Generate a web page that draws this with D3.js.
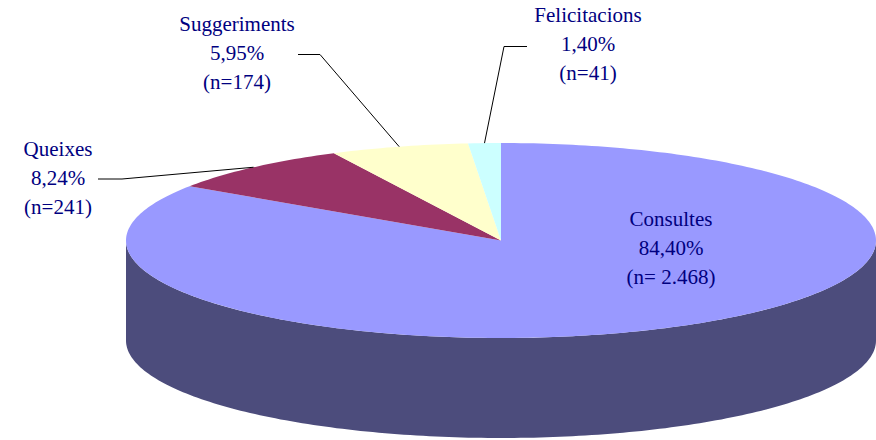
<!DOCTYPE html>
<html>
<head>
<meta charset="utf-8">
<script src="https://cdn.jsdelivr.net/npm/d3@7"></script>
<style>
  body { margin: 0; background: #fff; }
  text { font-size: 21px; fill: #000080; }
</style>
</head>
<body>
<svg id="chart" width="876" height="440"></svg>
<script>
const categories = ["Consultes", "Queixes", "Suggeriments", "Felicitacions"]
const percents = [84.40, 8.24, 5.95, 1.40]
const counts = ["2.468", "241", "174", "41"]
const pctLabels = ["84,40%", "8,24%", "5,95%", "1,40%"]

const colors = ["#9999ff", "#993366", "#ffffcc", "#ccffff"]
const sideColors = ["#4c4c7c", "#4d1a33", "#808066", "#668080"]

const width = 876, height = 440
const cx = 501, cy = 240.5, rx = 375, ry = 97.5, depth = 100
const PI = Math.PI
const fontFamily = "'Liberation Serif', 'DejaVu Serif', Tinos, 'Times New Roman', serif"

// label centre x, first baseline y, and the leader elbow (start, bend)
const labelPos = [
  {x: 671, y: 226, line: null},
  {x: 58, y: 156, line: [[98, 179], [122, 179]]},
  {x: 237, y: 31, line: [[298, 54.5], [320, 54.5]]},
  {x: 588, y: 22, line: [[527, 46.5], [504, 46.5]]}
]

const svg = d3.select("#chart")

const pie = d3.pie().sort(null).value(d => d)
const arcs = pie(percents)

const proj = (a, dy = 0) => [cx + rx * Math.sin(a), cy - ry * Math.cos(a) + dy]
const line = d3.line()

function arcPoints(a0, a1, dy) {
  const n = Math.max(2, Math.ceil((a1 - a0) / (PI / 180)))
  return d3.range(n + 1).map(i => proj(a0 + (a1 - a0) * i / n, dy))
}

// side wall: only the front half (90deg..270deg) is visible
const side = svg.append("g")
arcs.forEach((d, i) => {
  const a0 = Math.max(d.startAngle, PI / 2), a1 = Math.min(d.endAngle, 3 * PI / 2)
  if (a1 <= a0) return
  const top = arcPoints(a0, a1, 0)
  const bottom = arcPoints(a0, a1, depth).reverse()
  side.append("path")
    .attr("d", line(top.concat(bottom)) + "Z")
    .attr("fill", sideColors[i])
})

// top face
const topG = svg.append("g")
arcs.forEach((d, i) => {
  const pts = [[cx, cy]].concat(arcPoints(d.startAngle, d.endAngle, 0))
  topG.append("path")
    .attr("d", line(pts) + "Z")
    .attr("fill", colors[i])
})

// leader lines
arcs.forEach((d, i) => {
  const lp = labelPos[i]
  if (!lp.line) return
  const mid = (d.startAngle + d.endAngle) / 2
  svg.append("path")
    .attr("d", line(lp.line.concat([proj(mid, 0)])))
    .attr("fill", "none")
    .attr("stroke", "#000")
    .attr("stroke-width", 1)
})

// labels
categories.forEach((c, i) => {
  const lp = labelPos[i]
  const rows = [c, pctLabels[i], i === 0 ? "(n= " + counts[i] + ")" : "(n=" + counts[i] + ")"]
  const t = svg.append("text")
    .attr("text-anchor", "middle")
    .style("font-family", fontFamily)
  rows.forEach((r, k) => {
    t.append("tspan").attr("x", lp.x).attr("y", lp.y + k * 29).text(r)
  })
})
</script>
</body>
</html>
